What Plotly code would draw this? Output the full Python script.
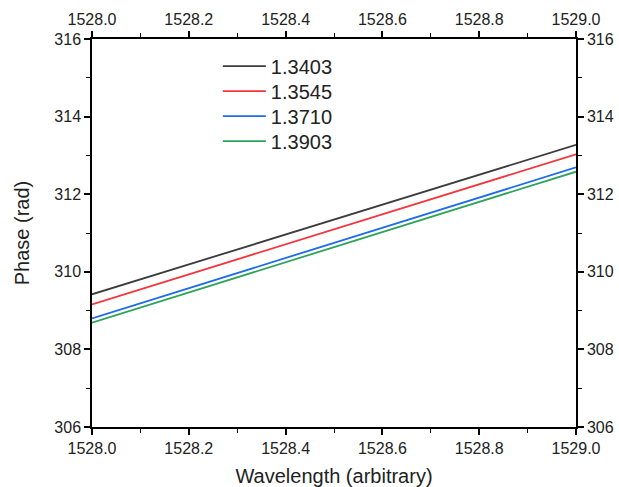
import plotly.graph_objects as go

wavelength = [1528.0, 1529.0]
labels = ["1.3403", "1.3545", "1.3710", "1.3903"]
phase_1_3403 = [309.42, 313.27]
phase_1_3545 = [309.16, 313.03]
phase_1_3710 = [308.80, 312.69]
phase_1_3903 = [308.69, 312.58]
series = [phase_1_3403, phase_1_3545, phase_1_3710, phase_1_3903]
colors = ["#3c3c3c", "#f5333a", "#1f6be8", "#2fa35a"]

x_ticks = [1528.0, 1528.2, 1528.4, 1528.6, 1528.8, 1529.0]
y_ticks = [306, 308, 310, 312, 314, 316]

FAM = "Liberation Sans, Arial, sans-serif"
legend_ids = ["legend", "legend2", "legend3", "legend4"]

fig = go.Figure()
for lab, ys, c, lid in zip(labels, series, colors, legend_ids):
    fig.add_trace(go.Scatter(x=wavelength, y=ys, mode="lines", name=lab,
                             line=dict(color=c, width=1.8), legend=lid))
# dummy trace for mirrored axes
fig.add_trace(go.Scatter(x=[None], y=[None], xaxis="x2", yaxis="y2",
                         showlegend=False, hoverinfo="skip"))

font = dict(family=FAM, color="#222", size=16)
common_x = dict(range=[1528.0, 1529.0], tickvals=x_ticks,
                ticktext=[f"{v:.1f}" for v in x_ticks],
                ticks="outside", ticklen=6, tickwidth=1.5, tickcolor="black",
                showline=True, linecolor="black", linewidth=1.5,
                showgrid=False, zeroline=False,
                minor=dict(dtick=0.1, tick0=1528.0, ticks="outside", ticklen=4,
                           tickwidth=1.2, tickcolor="black", showgrid=False),
                tickfont=font)
common_y = dict(range=[306, 316], tickvals=y_ticks,
                ticks="outside", ticklen=6, tickwidth=1.5, tickcolor="black",
                showline=True, linecolor="black", linewidth=1.5,
                showgrid=False, zeroline=False,
                minor=dict(dtick=1, tick0=306, ticks="outside", ticklen=4,
                           tickwidth=1.2, tickcolor="black", showgrid=False),
                tickfont=font)

top, bottom = 38.5, 427.0
legend_centers_px = [65.7, 90.7, 115.7, 140.7]
legends = {}
for lid, yc in zip(legend_ids, legend_centers_px):
    legends[lid] = dict(x=0.26, y=(bottom - yc) / (bottom - top),
                        xanchor="left", yanchor="middle",
                        bgcolor="rgba(0,0,0,0)", borderwidth=0,
                        font=dict(size=20, color="#222", family=FAM),
                        itemwidth=43)

fig.update_layout(
    width=619, height=487,
    margin=dict(l=92, r=43, t=38.5, b=60, autoexpand=False),
    paper_bgcolor="white", plot_bgcolor="white",
    font=font,
    xaxis=dict(**common_x, title=dict(text="Wavelength (arbitrary)",
                                      font=dict(size=20, color="#222", family=FAM),
                                      standoff=13)),
    yaxis=dict(**common_y, title=dict(text="Phase (rad)",
                                      font=dict(size=20, color="#222", family=FAM),
                                      standoff=19)),
    xaxis2=dict(**common_x, overlaying="x", side="top"),
    yaxis2=dict(**common_y, overlaying="y", side="right"),
    showlegend=True,
    **legends,
)

fig.write_html("out.html",
               config={"displayModeBar": False},
               post_script="document.body.style.margin='0';document.body.style.overflow='hidden';")
